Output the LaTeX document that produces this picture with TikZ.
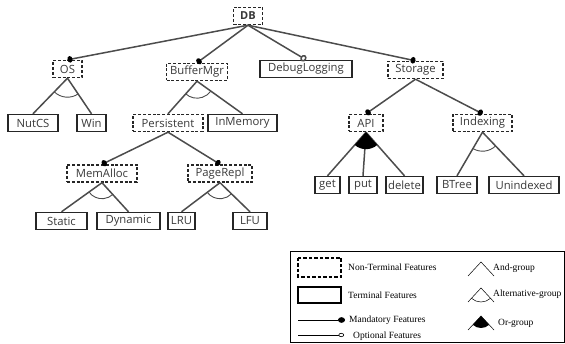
\documentclass[tikz,border=0pt]{standalone}
\usepackage{fontspec}
\setmainfont{Liberation Serif}
\newfontfamily\nodefont{Open Sans}
\usetikzlibrary{arrows.meta,calc}
\newcommand{\grouparc}[5]{%
  \path[#1] let \p1=($(#3)-(#2)$), \p2=($(#4)-(#2)$),
    \n1={atan2(\y1,\x1)}, \n2={atan2(\y2,\x2)} in
    ($(#2)+(\n1:#5)$) arc[start angle=\n1, end angle=\n2, radius=#5];}
\newcommand{\groupwedge}[5]{%
  \path[#1] let \p1=($(#3)-(#2)$), \p2=($(#4)-(#2)$),
    \n1={atan2(\y1,\x1)}, \n2={atan2(\y2,\x2)} in
    (#2) -- ($(#2)+(\n1:#5)$) arc[start angle=\n1, end angle=\n2, radius=#5] -- cycle;}
\begin{document}
\begin{tikzpicture}[x=1pt,y=-1pt,
  feat/.style={font=\nodefont\fontsize{11.3}{12}\selectfont, text=black!78,
    draw=black!85, line width=1.4pt, minimum height=17pt, inner sep=0.5pt},
  nonterm/.style={feat, dash pattern=on 3pt off 1.8pt},
  term/.style={feat},
  edge/.style={draw=black!70, line width=1.5pt},
  mand/.style={edge, -{Circle[length=5pt,width=6.5pt,color=black]}},
  opt/.style={edge, -{Circle[open,length=6pt,width=7pt,fill=white]}},
  grp/.style={draw=black!70, line width=0.9pt},
  lgtext/.style={font=\fontsize{9.5}{10}\selectfont, anchor=west, inner sep=0pt},
]
\useasboundingbox (0,0) rectangle (565,344);

% ---- tree nodes ----
\node[nonterm, minimum width=29pt, font=\nodefont\bfseries\fontsize{11}{12}\selectfont] (DB) at (248,16) {DB};
\node[nonterm, minimum width=29pt] (OS) at (67.5,69) {OS};
\node[nonterm, minimum width=61pt] (BM) at (197,72) {BufferMgr};
\node[term, minimum width=92pt] (DL) at (306,69) {DebugLogging};
\node[nonterm, minimum width=55pt] (ST) at (415.5,70) {Storage};
\node[term, minimum width=50pt] (NC) at (33,123) {NutCS};
\node[term, minimum width=29pt] (WN) at (91.5,123) {Win};
\node[nonterm, minimum width=70pt] (PE) at (168,123) {Persistent};
\node[term, minimum width=69pt] (IM) at (242.5,123) {InMemory};
\node[nonterm, minimum width=34pt] (AP) at (366,123) {API};
\node[nonterm, minimum width=59pt] (IX) at (482.5,123) {Indexing};
\node[nonterm, minimum width=70pt] (MA) at (102,173.5) {MemAlloc};
\node[nonterm, minimum width=64pt] (PR) at (220,173.5) {PageRepl};
\node[term, minimum width=51pt] (SA) at (61.5,221) {Static};
\node[term, minimum width=63pt] (DY) at (128.5,221) {Dynamic};
\node[term, minimum width=27pt] (LR) at (181.5,221) {LRU};
\node[term, minimum width=34pt] (LF) at (250,221) {LFU};
\node[term, minimum width=25pt] (GE) at (327.5,185) {get};
\node[term, minimum width=28pt] (PU) at (363,185) {put};
\node[term, minimum width=37pt] (DE) at (404.5,185) {delete};
\node[term, minimum width=40pt] (BT) at (457,185) {BTree};
\node[term, minimum width=70pt] (UN) at (524,185) {Unindexed};

% ---- edges ----
\draw[mand] (DB.south) -- (OS.north);
\draw[mand] (DB.south) -- (BM.north);
\draw[opt] (DB.south) -- (DL.north);
\draw[mand] (DB.south) -- (ST.north);

\draw[edge] (OS.south) -- (NC.north);
\draw[edge] (OS.south) -- (WN.north);
\grouparc{grp}{OS.south}{NC.north}{WN.north}{19pt}

\draw[edge] (BM.south) -- (PE.north);
\draw[edge] (BM.south) -- (IM.north);
\grouparc{grp}{BM.south}{PE.north}{IM.north}{17pt}

\draw[mand] (PE.south) -- (MA.north);
\draw[mand] (PE.south) -- (PR.north);

\draw[edge] (MA.south) -- (SA.north);
\draw[edge] (MA.south) -- (DY.north);
\grouparc{grp}{MA.south}{SA.north}{DY.north}{16pt}

\draw[edge] (PR.south) -- (LR.north);
\draw[edge] (PR.south) -- (LF.north);
\grouparc{grp}{PR.south}{LR.north}{LF.north}{16pt}

\draw[mand] (ST.south) -- (AP.north);
\draw[mand] (ST.south) -- (IX.north);

\draw[edge] (AP.south) -- (GE.north);
\draw[edge] (AP.south) -- (PU.north);
\draw[edge] (AP.south) -- (DE.north);
\groupwedge{fill=black}{AP.south}{GE.north}{DE.north}{17pt}

\draw[edge] (IX.south) -- (BT.north);
\draw[edge] (IX.south) -- (UN.north);
\grouparc{grp}{IX.south}{BT.north}{UN.north}{19pt}

% ---- legend ----
\draw[line width=0.8pt] (290.5,251.5) rectangle (564.5,342.5);
\draw[line width=1.4pt, dash pattern=on 3.5pt off 2pt] (298,258) rectangle (341,277);
\draw[line width=1.4pt] (298,287) rectangle (341,303);
\coordinate (m1) at (298,320); \coordinate (m2) at (345,320);
\coordinate (o1) at (298,335); \coordinate (o2) at (344,335);
\draw[line width=0.6pt, -{Circle[length=7pt,width=5.5pt]}] (m1) -- (m2);
\draw[line width=0.6pt, -{Circle[open,length=5.5pt,width=4pt,fill=white]}] (o1) -- (o2);
\node[lgtext] (t1) at (348,267) {Non-Terminal Features};
\node[lgtext] (t2) at (348,295) {Terminal Features};
\node[lgtext] (t3) at (349,320) {Mandatory Features};
\node[lgtext] (t4) at (353,336) {Optional Features};

\coordinate (a0) at (481,262); \coordinate (a1) at (468,276); \coordinate (a2) at (494,276);
\draw[line width=0.5pt] (a1) -- (a0) -- (a2);
\coordinate (b0) at (481,288); \coordinate (b1) at (468,302); \coordinate (b2) at (494,302);
\draw[line width=0.5pt] (b1) -- (b0) -- (b2);
\grouparc{draw, line width=0.5pt}{b0}{b1}{b2}{14pt}
\coordinate (c0) at (481,316); \coordinate (c1) at (468,330); \coordinate (c2) at (494,330);
\draw[line width=0.5pt] (c1) -- (c0) -- (c2);
\groupwedge{fill=black}{c0}{c1}{c2}{12pt}
\node[lgtext] (t5) at (493,268) {And-group};
\node[lgtext] (t6) at (493,294) {Alternative-group};
\node[lgtext] (t7) at (498,323) {Or-group};
\end{tikzpicture}
\end{document}
